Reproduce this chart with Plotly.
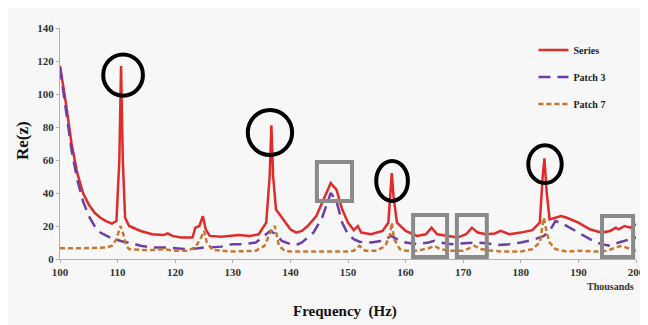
import plotly.graph_objects as go

# ---- data (frequency in kHz, Re(z)) ----
series_f = [100, 101, 102, 103, 104, 105, 106, 107, 108, 109, 109.8, 110.3, 110.6, 110.9, 111.3, 112, 114, 116, 118,
            118.7, 119.5, 121, 123, 123.5, 124.2, 124.8, 125.3, 126, 128, 130, 131, 133, 134.5, 135.8, 136.4, 136.7,
            137, 137.5, 138.5, 140, 141, 142, 143, 144.5, 146, 147, 148, 149, 150, 151, 151.7, 152.3, 154, 156, 157,
            157.4, 157.6, 157.9, 158.5, 160, 162, 163.5, 164.5, 165.5, 167, 169, 170.5, 171.5, 172.5, 174, 175.5,
            176.5, 178, 180, 182, 183.3, 183.8, 184.1, 184.5, 185, 186, 187, 188, 190, 192, 194, 195.5, 196.5, 197,
            198, 199, 200]
series_v = [117, 95, 70, 52, 40, 33, 28, 25, 23, 21.5, 23, 60, 117, 60, 25, 20, 17, 15, 14.5,
            15.5, 14, 13, 13, 19, 20, 26, 18, 14, 13.5, 14, 14.5, 14, 15, 22, 50, 81,
            50, 30, 25, 18, 16, 17, 20, 26, 38, 46, 42, 30, 22, 17.5, 20, 16, 15, 17, 22,
            40, 52, 38, 22, 17, 14, 15, 19, 15, 14, 13, 15, 19, 16, 15, 15.5,
            17, 15, 16, 17.5, 22, 50, 61, 40, 24, 25, 26, 25, 22, 18, 16, 17, 19, 18,
            20, 19, 21]

patch3_f = [100, 101, 102, 103, 104, 105, 106, 107, 108, 109, 110, 111, 112, 113, 114, 116, 118, 120, 122, 124, 125,
            126, 128, 130, 132, 134, 135.5, 136.5, 137.5, 138.5, 140, 141, 142, 144, 145.5, 147, 148, 149, 150, 151,
            152, 154, 156, 157.5, 158.5, 160, 162, 164, 165, 166, 168, 170, 172, 174, 176, 178, 180, 182, 184, 185,
            186, 187, 188, 190, 192, 194, 195.5, 197, 199, 200]
patch3_v = [116, 90, 66, 48, 35, 26, 20, 16, 14, 12.5, 11.5, 10.5, 10, 9, 8, 7, 7, 6.5, 6, 6.5, 7,
            7, 7.5, 9, 9, 10, 14, 17, 15, 11, 9, 8.5, 10, 16, 25, 40, 35, 22, 15, 12,
            10.5, 10, 11, 14, 12, 10, 9, 10, 11, 10, 9, 9.5, 10, 9.5, 8.5, 9, 10, 11.5, 14, 17,
            23, 22, 20, 16, 12, 9, 8, 10, 12, 13]

patch7_f = [100, 104, 108, 109, 109.8, 110.5, 111, 111.5, 112, 114, 116, 118, 120, 122, 123.5, 124.5, 125, 125.5,
            126.5, 128, 130, 134, 135.5, 136.5, 137.3, 138, 139, 140, 145, 150, 151, 152, 153, 155, 156.5, 157.3,
            157.6, 158, 159, 160, 162, 164, 165, 166, 168, 170, 171, 172, 173, 175, 177, 180, 182, 183.3, 184,
            184.5, 185, 186, 188, 190, 193, 195, 196.5, 197.5, 199, 200]
patch7_v = [6.5, 6.5, 7, 8, 12, 20, 15, 8, 6, 5.5, 5.5, 6, 5, 5, 7, 13, 17, 10,
            5.5, 5, 4.5, 5, 8, 16, 20, 8, 5, 4.5, 4.5, 4.5, 5, 8, 5, 5, 8, 15,
            22, 12, 6, 5, 5, 6.5, 8, 6, 5, 5, 6.5, 8, 6, 5, 4.5, 4.5, 6, 10, 25,
            16, 10, 6, 4.5, 5, 4.5, 5, 7, 8, 6, 5]

x_ticks = [100, 110, 120, 130, 140, 150, 160, 170, 180, 190, 200]
y_ticks = [0, 20, 40, 60, 80, 100, 120, 140]

# highlight markers: (x0, x1, y0, y1) in data units
circles = [(107.5, 114.4, 99, 124), (132.6, 140.3, 63, 90.3), (154.9, 160.4, 35.2, 59.4), (181.3, 187.1, 46, 69)]
squares = [(144.6, 150.7, 35.2, 58.8), (161.3, 167.2, 1.2, 26.7), (168.9, 174.1, 1.2, 26.7), (194.1, 199.5, 1.2, 26)]

FONT = "Liberation Serif, serif"

fig = go.Figure()
fig.add_trace(go.Scatter(x=series_f, y=series_v, mode="lines", name="<b>Series</b>",
                         line=dict(color="#e02b2b", width=2.5), legendgroup="a"))
fig.add_trace(go.Scatter(x=patch3_f, y=patch3_v, mode="lines", name="<b>Patch 3</b>",
                         line=dict(color="#6b3fa6", width=2.5, dash="12px,7px"), legendgroup="b"))
fig.add_trace(go.Scatter(x=patch7_f, y=patch7_v, mode="lines", name="<b>Patch 7</b>",
                         line=dict(color="#c8782e", width=2.5, dash="5px,3px"), legendgroup="c"))

shapes = []
for (x0, x1, y0, y1) in circles:
    shapes.append(dict(type="circle", xref="x", yref="y", x0=x0, x1=x1, y0=y0, y1=y1,
                       line=dict(color="black", width=4)))
for (x0, x1, y0, y1) in squares:
    shapes.append(dict(type="rect", xref="x", yref="y", x0=x0, x1=x1, y0=y0, y1=y1,
                       line=dict(color="#8a8a8a", width=4)))

fig.update_layout(
    width=648, height=325,
    margin=dict(l=52, r=20, t=20, b=74),
    paper_bgcolor="#f7f7f7", plot_bgcolor="#f7f7f7",
    font=dict(family=FONT, color="#333333"),
    shapes=shapes,
    showlegend=True,
    legend=dict(x=0.822, y=0.967, xanchor="left", yanchor="top", bgcolor="rgba(0,0,0,0)",
                font=dict(family=FONT, size=10, color="#222"), tracegroupgap=8,
                traceorder="grouped"),
    xaxis=dict(range=[100, 200], tickvals=x_ticks, ticktext=[f"<b>{v}</b>" for v in x_ticks],
               showgrid=False, zeroline=False, showline=True, linecolor="#b0b0b0", linewidth=1,
               ticks="outside", ticklen=3, tickcolor="#b0b0b0",
               tickfont=dict(family=FONT, size=11, color="#333")),
    yaxis=dict(range=[0, 140], tickvals=y_ticks, ticktext=[f"<b>{v}</b>" for v in y_ticks],
               showgrid=False, zeroline=False, showline=True, linecolor="#b0b0b0", linewidth=1,
               ticks="outside", ticklen=3, tickcolor="#b0b0b0",
               tickfont=dict(family=FONT, size=11, color="#333")),
    annotations=[
        dict(text="<b>Re(z)</b>", xref="paper", yref="paper", x=-0.066, y=0.515, xanchor="center",
             yanchor="middle", textangle=-90, showarrow=False, font=dict(family=FONT, size=17, color="#111")),
        dict(text="<b>Frequency  (Hz)</b>", xref="paper", yref="paper", x=0.495, y=-0.229, xanchor="center",
             yanchor="middle", showarrow=False, font=dict(family=FONT, size=15, color="#111")),
        dict(text="<b>Thousands</b>", xref="paper", yref="paper", x=1.0, y=-0.121, xanchor="right",
             yanchor="middle", showarrow=False, font=dict(family=FONT, size=10, color="#333")),
    ],
)

fig.write_html("out.html")
